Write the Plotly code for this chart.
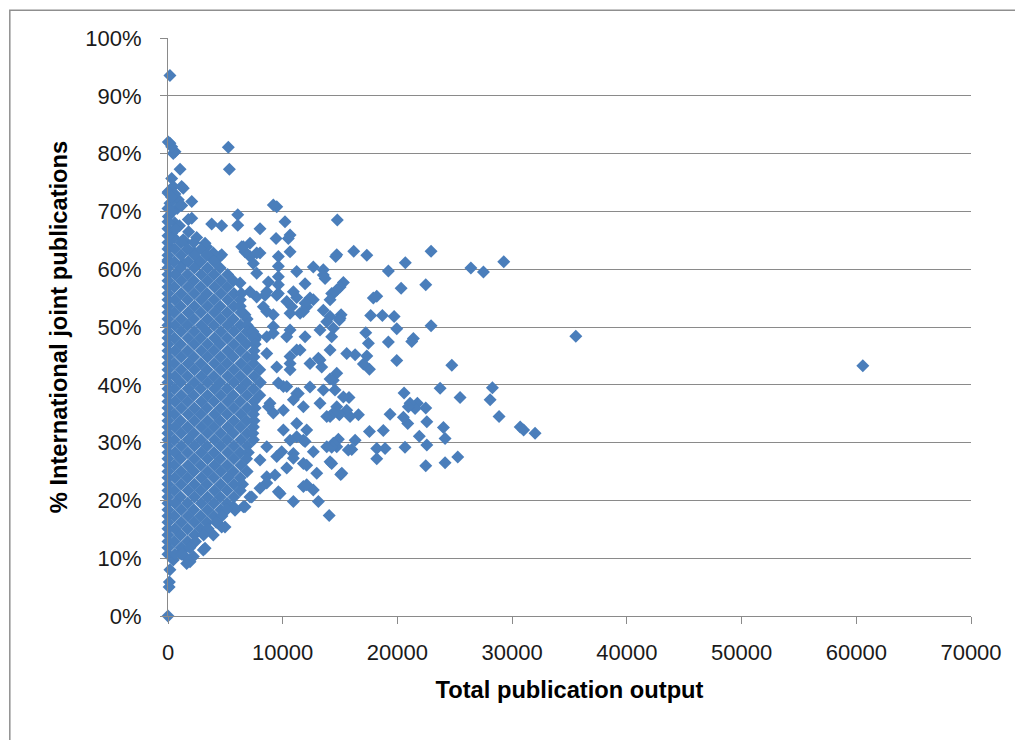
import plotly.graph_objects as go

# ---------------- data (x = total publication output, y = % international joint publications) -------------
far_points = [
    (60570, 43.3), (35550, 48.4), (32000, 31.6), (30700, 32.7), (31000, 32.2), (29270, 61.3), (27500, 59.5),
    (26400, 60.2), (28280, 39.5), (28080, 37.4), (28860, 34.5), (25460, 37.8), (25260, 27.5), (24740, 43.4),
    (24150, 30.7), (24150, 26.5), (24010, 32.6), (23720, 39.4), (22930, 63.1), (22930, 50.2), (22560, 33.6),
    (22560, 29.6), (22470, 57.3), (22470, 36.0), (22470, 26.0), (21910, 31.1), (21740, 36.8), (21540, 35.9),
    (21390, 48.0), (21250, 47.5), (21100, 36.8), (20950, 36.2), (20900, 33.3), (20690, 61.1), (20660, 29.2),
    (20580, 38.6), (20520, 34.4), (20320, 56.7), (19940, 49.7), (19940, 44.2), (19710, 51.8), (19360, 34.9),
    (19210, 59.7), (19210, 47.4), (18920, 29.0), (18770, 32.1), (18690, 52.0), (18200, 55.3), (18200, 29.0),
    (18200, 27.2), (17900, 55.0), (17670, 52.0), (17560, 42.7), (17560, 31.9), (17470, 47.2), (17330, 62.4),
    (17330, 45.0), (17240, 49.0), (17030, 43.6), (16600, 34.8), (16310, 45.2), (16310, 30.4), (16190, 63.1),
    (16020, 28.8), (15870, 34.5), (15780, 37.8), (15720, 28.7), (15580, 45.4), (15580, 35.6), (15290, 57.7),
    (15290, 37.9), (15150, 24.7), (15090, 52.1), (15060, 24.5), (15000, 56.9), (15000, 51.5), (14940, 51.2),
    (14940, 34.8), (14850, 30.6), (14760, 68.5), (14710, 62.5), (14710, 56.4), (14710, 42.0), (14710, 36.2),
    (14710, 29.3), (14620, 62.2), (14560, 39.1), (14410, 55.8), (14410, 49.8), (14410, 40.8), (14410, 35.1),
    (14410, 29.9), (14270, 55.8), (14270, 48.3), (14270, 29.2), (14270, 26.4), (14130, 54.7), (14130, 51.8),
    (14130, 46.0), (14130, 41.0), (14130, 34.5), (14130, 26.7), (14050, 17.4),
]

mid_points = [
    (13840, 50.9), (13840, 34.5), (13840, 29.3), (13690, 58.4), (13540, 59.9), (13540, 59.0), (13540, 52.9),
    (13540, 39.1), (13400, 43.1), (13250, 49.5), (13250, 44.3), (13250, 36.8), (13110, 44.6), (13110, 19.8),
    (12970, 24.7), (12670, 60.4), (12670, 54.7), (12670, 28.4), (12670, 21.8), (12380, 55.0), (12380, 43.7),
    (12380, 39.6), (12090, 53.5), (12090, 32.2), (12090, 26.1), (12090, 22.7), (11950, 57.5), (11950, 54.1),
    (11950, 48.3), (11950, 30.2), (11800, 52.7), (11800, 36.2), (11800, 30.4), (11800, 26.4), (11800, 22.4),
    (11510, 52.4), (11510, 46.0), (11360, 38.5), (11220, 59.6), (11220, 55.1), (11220, 46.0), (11220, 38.5),
    (11220, 33.3), (11220, 31.0), (10930, 56.1), (10930, 37.4), (10930, 28.1), (10930, 27.3), (10930, 19.8),
    (10790, 53.5), (10640, 65.9), (10640, 63.0), (10640, 52.4), (10640, 49.5), (10640, 44.9), (10640, 43.7),
    (10640, 42.6), (10640, 30.4), (10490, 65.3), (10350, 54.4), (10350, 48.3), (10350, 39.7), (10350, 25.6),
    (10200, 68.2), (10060, 39.7), (10060, 35.6), (10060, 32.2), (9910, 28.4), (9770, 21.2), (9620, 62.2),
    (9620, 60.5), (9620, 58.7), (9620, 57.3), (9620, 55.8), (9620, 40.3), (9620, 21.5), (9480, 70.8),
    (9480, 55.5), (9480, 43.1), (9480, 27.6), (9420, 65.3), (9330, 24.4), (9180, 71.1), (9180, 52.1),
    (9180, 50.1), (9180, 48.9), (9180, 35.1), (8890, 36.8), (8750, 57.8), (8750, 36.2), (8610, 56.1),
    (8610, 52.7), (8610, 48.3), (8610, 45.4), (8610, 29.3), (8610, 24.1), (8610, 23.0), (8460, 55.5),
    (8310, 53.5), (8020, 67.0), (8020, 62.8), (8020, 27.0), (8020, 22.1),
]

edge_points = [
    (7730, 62.8), (7730, 59.3), (7730, 55.2), (7730, 48.3), (7590, 47.8), (7440, 61.0), (7300, 20.6),
    (7150, 64.5), (7150, 62.2), (7150, 56.1), (7150, 48.9), (7150, 20.6), (6710, 63.0), (6710, 52.1),
    (6710, 18.9), (6570, 63.9), (6570, 52.4), (6570, 18.9), (6430, 63.9), (6280, 57.6), (6080, 69.4),
    (6080, 67.6), (5840, 18.3), (5700, 18.9), (5350, 77.3), (5260, 81.1), (4970, 15.4), (4680, 67.5),
    (4680, 62.5), (4680, 15.4), (4530, 62.2), (3950, 62.8), (3950, 14.0), (3810, 67.8), (3660, 62.2),
    (3370, 63.9), (3230, 64.5), (3230, 11.7), (3080, 11.4), (2790, 61.3), (2350, 62.8), (2210, 62.8),
    (2210, 10.3), (2070, 71.7), (2070, 68.8), (1920, 9.4), (1770, 68.6), (1630, 9.1), (1480, 64.8),
    (1480, 10.3), (1330, 74.0), (1330, 65.1), (1330, 61.0), (1330, 11.4), (1190, 74.3), (1050, 77.3),
    (1050, 10.8), (900, 72.0), (610, 80.3), (460, 80.0), (460, 74.3), (460, 9.7), (320, 81.2), (320, 75.7),
    (320, 66.2), (170, 93.5), (170, 81.8), (170, 71.4), (170, 63.9), (170, 8.0), (120, 5.9), (100, 5.0),
    (30, 82.0), (30, 73.4), (30, 69.1), (0, 73.2), (0, 61.6), (0, 0.0),
    (600, 73.0), (300, 72.5), (800, 70.5), (400, 70.0), (1200, 71.0), (0, 70.5), (600, 68.0), (1000, 67.5),
    (0, 67.0), (500, 65.5), (1800, 66.5), (2500, 65.5), (0, 65.8), (0, 68.2), (700, 67.0),
]

# dense core, one row per y value: (y, [x values])
core_upper = [
    (64.6, [0, 1150, 2250]),
    (63.5, [0, 600, 1700, 2900]),
    (62.4, [0, 1150, 2300, 3400]),
    (61.3, [0, 550, 1750, 2850, 4050]),
    (60.2, [0, 1100, 2300, 3450, 4550]),
    (59.1, [0, 600, 1700, 2900, 4000, 5200]),
    (58.0, [0, 1150, 2250, 3450, 4600, 5700]),
    (56.9, [0, 550, 1750, 2850, 4050, 5150]),
    (55.8, [0, 1150, 2300, 3400, 4600, 5750, 6400]),
    (54.7, [0, 600, 1700, 2900, 4000, 5200, 6300]),
    (53.6, [0, 1100, 2300, 3450, 4550, 5750, 6300]),
    (52.5, [0, 550, 1750, 2850, 4050, 5150, 6350]),
    (51.4, [0, 1150, 2250, 3450, 4600, 5700, 6900]),
    (50.3, [0, 600, 1700, 2900, 4000, 5200, 6300, 6900]),
]

core_middle = [
    (49.2, [0, 1150, 2300, 3400, 4600, 5750, 6900, 7400]),
    (48.1, [0, 550, 1750, 2850, 4050, 5150, 6350, 7450]),
    (47.0, [0, 1100, 2300, 3450, 4550, 5750, 6850, 7600]),
    (45.9, [0, 600, 1700, 2900, 4000, 5200, 6300, 7500]),
    (44.8, [0, 1150, 2250, 3450, 4600, 5700, 6900, 7500]),
    (43.7, [0, 550, 1750, 2850, 4050, 5150, 6350, 7450]),
    (42.6, [0, 1150, 2300, 3400, 4600, 5750, 6900, 8000]),
    (41.5, [0, 600, 1700, 2900, 4000, 5200, 6300, 7500]),
    (40.4, [0, 1100, 2300, 3450, 4550, 5750, 6850, 8050]),
    (39.3, [0, 550, 1750, 2850, 4050, 5150, 6350, 7450]),
    (38.2, [0, 1150, 2250, 3450, 4600, 5700, 6900, 8000]),
    (37.1, [0, 600, 1700, 2900, 4000, 5200, 6300, 7500]),
    (36.0, [0, 1150, 2300, 3400, 4600, 5750, 6900, 7600]),
    (34.9, [0, 550, 1750, 2850, 4050, 5150, 6350, 7450]),
    (33.8, [0, 1100, 2300, 3450, 4550, 5750, 6850, 7500]),
    (32.7, [0, 600, 1700, 2900, 4000, 5200, 6300, 7450]),
    (31.6, [0, 1150, 2250, 3450, 4600, 5700, 6900, 7400]),
    (30.5, [0, 550, 1750, 2850, 4050, 5150, 6350, 7450]),
]

core_lower = [
    (29.4, [0, 1150, 2300, 3400, 4600, 5750, 6900]),
    (28.3, [0, 600, 1700, 2900, 4000, 5200, 6300, 7000]),
    (27.2, [0, 1100, 2300, 3450, 4550, 5750, 6850]),
    (26.1, [0, 550, 1750, 2850, 4050, 5150, 6350]),
    (25.0, [0, 1150, 2250, 3450, 4600, 5700, 6900]),
    (23.9, [0, 600, 1700, 2900, 4000, 5200, 6300]),
    (22.8, [0, 1150, 2300, 3400, 4600, 5750, 6500]),
    (21.7, [0, 550, 1750, 2850, 4050, 5150, 6300]),
    (20.6, [0, 1100, 2300, 3450, 4550, 5750]),
    (19.5, [0, 600, 1700, 2900, 4000, 5150]),
    (18.4, [0, 1150, 2250, 3450, 4600, 5100]),
    (17.3, [0, 550, 1750, 2850, 4000, 4700]),
    (16.2, [0, 1150, 2300, 3400, 4200]),
    (15.1, [0, 600, 1700, 2850, 3500]),
    (14.0, [0, 1100, 2300, 3100]),
    (12.9, [0, 550, 1700, 2400]),
    (11.8, [0, 1150, 1900]),
    (10.7, [0, 600, 1200]),
]

y_tick_values = [0, 10, 20, 30, 40, 50, 60, 70, 80, 90, 100]
y_tick_labels = ["0%", "10%", "20%", "30%", "40%", "50%", "60%", "70%", "80%", "90%", "100%"]
x_tick_values = [0, 10000, 20000, 30000, 40000, 50000, 60000, 70000]
x_tick_labels = ["0", "10000", "20000", "30000", "40000", "50000", "60000", "70000"]

all_points = far_points + mid_points + edge_points
for row_y, row_xs in core_upper + core_middle + core_lower:
    all_points += [(x, row_y) for x in row_xs]
xs = [p[0] for p in all_points]
ys = [p[1] for p in all_points]

# ---------------- figure ----------------
GRID = "#8a8a8a"
FONT = "Liberation Sans, Arial, sans-serif"

fig = go.Figure()
fig.add_trace(go.Scatter(
    x=xs, y=ys, mode="markers",
    marker=dict(symbol="diamond", size=10, color="#4A7EBB", line=dict(width=0)),
    cliponaxis=False, showlegend=False, hoverinfo="x+y",
))

fig.update_layout(
    width=1015, height=732,
    margin=dict(l=160, r=52, t=30, b=124),
    paper_bgcolor="white", plot_bgcolor="white",
    font=dict(family=FONT, size=22, color="#1a1a1a"),
    xaxis=dict(
        range=[0, 70000], tickvals=x_tick_values, ticktext=x_tick_labels,
        showgrid=False, zeroline=False,
        showline=True, linecolor=GRID, linewidth=1,
        ticks="outside", ticklen=7, tickcolor=GRID, ticklabelstandoff=10,
        title=dict(text="<b>Total publication output</b>", font=dict(size=23.7, color="black"), standoff=17),
    ),
    yaxis=dict(
        range=[0, 100], tickvals=y_tick_values, ticktext=y_tick_labels,
        showgrid=True, gridcolor=GRID, gridwidth=1, zeroline=False,
        showline=True, linecolor=GRID, linewidth=1,
        ticks="outside", ticklen=7, tickcolor=GRID, ticklabelstandoff=14,
        title=dict(text="<b>% International joint publications</b>", font=dict(size=23.7, color="black"), standoff=11),
    ),
    shapes=[dict(
        type="rect", xref="paper", yref="paper",
        x0=-0.197, x1=1.058, y0=-0.25, y1=1.048,
        line=dict(color="#8f8f8f", width=1.5), fillcolor="rgba(0,0,0,0)", layer="below",
    )],
)

fig.write_html("out.html")
